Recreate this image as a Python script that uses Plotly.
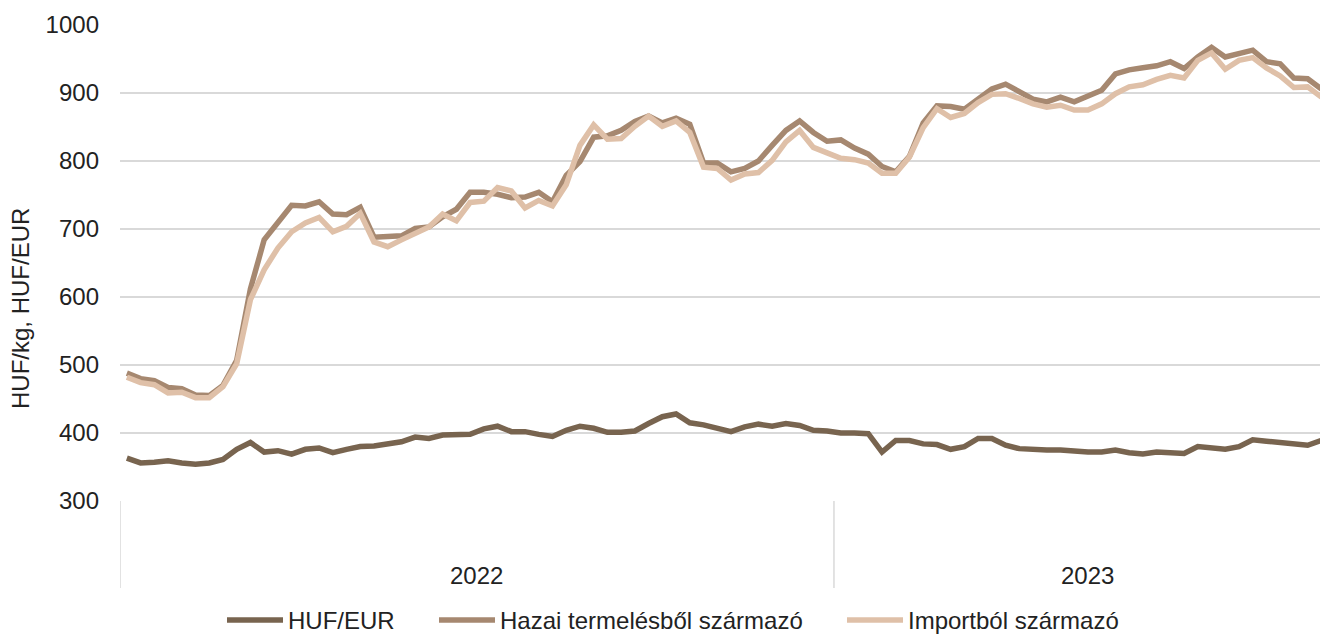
import plotly.graph_objects as go

# ---- data (weekly) ----
years = ["2022", "2023"]
year_weeks = [52, 37]  # number of weekly categories per year on the axis

huf_eur_2022 = [363, 356, 357, 359, 356, 354, 356, 361, 376, 386, 372, 374, 369, 376, 378, 371,
                376, 380, 381, 385, 387, 394, 392, 397, 398, 398, 406, 410, 402, 402, 398, 395,
                404, 410, 407, 401, 401, 403, 414, 424, 428, 415, 412, 407, 402, 409, 413, 410,
                414, 411, 404, 403]
huf_eur_2023 = [400, 400, 399, 372, 389, 389, 384, 383, 376, 380, 392, 392, 382, 377, 375, 375,
                375, 373, 372, 372, 375, 371, 369, 372, 372, 370, 380, 379, 376, 380, 390, 388,
                386, 383, 382, 389]

hazai_2022 = [488, 480, 477, 467, 465, 456, 455, 470, 507, 612, 684, 708, 735, 734, 740, 722,
              721, 732, 688, 689, 690, 701, 703, 718, 729, 754, 754, 751, 746, 747, 754, 740,
              779, 799, 835, 837, 845, 858, 866, 856, 863, 854, 797, 797, 784, 789, 800, 823,
              845, 859, 842, 829]
hazai_2023 = [831, 819, 810, 792, 784, 807, 856, 881, 880, 876, 890, 906, 913, 902, 891, 887,
              894, 887, 895, 904, 928, 934, 937, 940, 946, 936, 953, 967, 953, 959, 963, 946,
              943, 922, 921, 906]

import_2022 = [482, 474, 471, 459, 460, 452, 452, 468, 502, 596, 640, 672, 696, 709, 717, 696,
               704, 723, 681, 674, 684, 694, 703, 722, 712, 739, 741, 761, 756, 731, 742, 734,
               765, 823, 853, 832, 833, 851, 866, 851, 859, 842, 791, 789, 772, 781, 783, 801,
               828, 845, 820, 812]
import_2023 = [804, 802, 797, 782, 782, 806, 849, 877, 864, 870, 886, 898, 899, 892, 884, 879,
               882, 875, 875, 884, 899, 909, 912, 920, 926, 922, 948, 959, 935, 948, 952, 937,
               925, 908, 909, 894]

series_names = ["HUF/EUR", "Hazai termelésből származó", "Importból származó"]
series_colors = ["#78644f", "#a68870", "#dfc0a8"]
y_ticks = [300, 400, 500, 600, 700, 800, 900, 1000]
y_title = "HUF/kg, HUF/EUR"

# ---- build ----
series = [huf_eur_2022 + huf_eur_2023,
          hazai_2022 + hazai_2023,
          import_2022 + import_2023]

FONT = "Liberation Sans, Arial, sans-serif"
TXT = "#222222"
GRID = "#d9d9d9"
W, H = 1320, 634
ML, MR, MT, MB = 120, 0, 25, 133
PW, PH = W - ML - MR, H - MT - MB

legend_ids = ["legend", "legend2", "legend3"]
legend_px = [222, 434, 842]  # left pixel of each legend entry

fig = go.Figure()
for name, vals, col, lid in zip(series_names, series, series_colors, legend_ids):
    fig.add_trace(go.Scatter(
        x=list(range(len(vals))), y=vals, mode="lines", name=name, legend=lid,
        line=dict(color=col, width=5.5)))

legend_y = -(598 - (H - MB)) / PH
legend_common = dict(orientation="h", xanchor="left", y=legend_y, yanchor="top",
                     font=dict(size=24, color=TXT, family=FONT), itemwidth=56,
                     bgcolor="rgba(0,0,0,0)", borderwidth=0)
legends = {}
for lid, px in zip(legend_ids, legend_px):
    legends[lid] = dict(legend_common, x=(px - ML) / PW)

fig.update_layout(
    width=W, height=H,
    margin=dict(l=ML, r=MR, t=MT, b=MB, autoexpand=False),
    paper_bgcolor="white", plot_bgcolor="white",
    font=dict(family=FONT, size=24, color=TXT),
    showlegend=True,
    xaxis=dict(range=[-0.5, 86.9], showticklabels=False, showgrid=False, zeroline=False,
               showline=False, ticks=""),
    yaxis=dict(range=[300, 1000], tickvals=y_ticks, showgrid=True, gridcolor=GRID,
               gridwidth=1.5, zeroline=False, showline=False, ticks="",
               ticklabelstandoff=20, tickfont=dict(size=24, color=TXT)),
    **legends,
)

# vertical group dividers and year labels under the axis
start = -0.5
bottom = -(588 - (H - MB)) / PH
for yr, n in zip(years, year_weeks):
    fig.add_shape(type="line", xref="x", yref="paper", x0=start, x1=start, y0=0, y1=bottom,
                  line=dict(color=GRID, width=1.5))
    fig.add_annotation(text=yr, xref="x", yref="paper", x=start + n / 2.0,
                       y=-(575 - (H - MB)) / PH, showarrow=False,
                       font=dict(size=24, color=TXT), yanchor="middle")
    start += n

fig.add_annotation(text=y_title, xref="paper", yref="paper", x=(20 - ML) / PW,
                   y=((H - MB) - 309) / PH, textangle=-90, showarrow=False,
                   font=dict(size=24, color=TXT), xanchor="center", yanchor="middle")

fig.write_html("out.html",
               config={"displayModeBar": False},
               post_script="document.body.style.margin='0';"
                           "document.body.style.overflow='hidden';")
